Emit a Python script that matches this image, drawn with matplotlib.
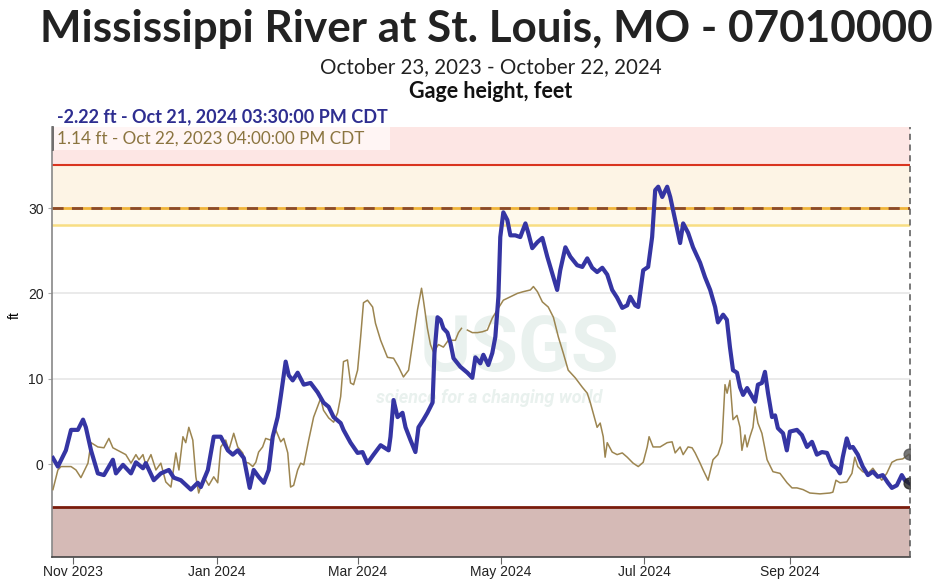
import numpy as np
import pandas as pd
import matplotlib
matplotlib.use('Agg')
import matplotlib.pyplot as plt
import matplotlib.dates as mdates

# 데이터: 시작일 기준 경과일 / 수위(ft)
start = pd.Timestamp('2023-10-23')

cur_days = [0.4, 2.5, 5.9, 8.1, 11.0, 13.2, 14.4, 16.6, 19.5, 22.1, 25.9, 27.2, 30.2, 33.6, 35.7,
            38.7, 39.9, 43.3, 46.3, 49.7, 51.8, 54.8, 59.1, 62.0, 63.3, 66.3, 68.8, 71.8, 74.8,
            76.9, 79.0, 81.6, 84.1, 85.8, 87.9, 90.1, 92.2, 93.9, 96.0, 97.3, 99.4, 100.7, 102.4,
            104.5, 107.1, 110.0, 113.0, 115.5, 117.7, 119.8, 122.8, 124.0, 127.0, 130.0, 132.1,
            134.2, 136.8, 139.8, 143.2, 144.0, 145.3, 147.0, 149.1, 150.4, 152.5, 154.6, 155.9,
            158.0, 159.7, 161.9, 162.7, 164.0, 165.3, 166.5, 168.2, 169.5, 170.8, 173.7, 176.7,
            178.8, 180.1, 182.2, 183.5, 185.6, 187.3, 188.6, 189.9, 190.7, 192.0, 193.7, 195.0,
            197.1, 199.2, 201.4, 202.6, 204.3, 206.5, 208.6, 210.7, 213.3, 214.9, 216.2, 218.4,
            220.5, 223.4, 225.6, 227.7, 229.8, 231.9, 234.1, 236.2, 238.3, 240.4, 242.6, 244.7,
            246.0, 248.1, 249.4, 251.5, 253.6, 255.3, 256.6, 257.9, 259.6, 261.7, 263.0, 265.1,
            267.2, 268.5, 270.6, 272.7, 275.7, 277.8, 280.0, 282.1, 283.3, 285.5, 287.1, 288.4,
            289.7, 291.4, 292.7, 294.0, 295.7, 297.8, 299.1, 300.3, 302.0, 303.3, 304.6, 306.3,
            307.6, 308.8, 311.0, 312.6, 313.9, 316.9, 319.0, 321.2, 323.3, 325.4, 327.5, 329.7,
            331.8, 333.9, 335.2, 336.4, 338.1, 339.4, 340.7, 342.8, 344.9, 347.1, 349.2, 351.3,
            353.4, 355.6, 357.3, 359.4, 361.5, 362.8, 364.6]
cur_ft = [0.7, -0.3, 1.6, 4.0, 4.0, 5.2, 4.3, 1.6, -1.1, -1.3, 0.5, -1.1, -0.1, -1.1, 0.2,
          -0.5, 0.1, -1.9, -1.1, -0.7, -1.6, -1.9, -3.0, -2.2, -2.7, -0.7, 3.2, 3.2, 1.6,
          1.1, 1.6, 0.7, -2.8, -0.7, -1.5, -2.2, -0.7, 3.2, 5.5, 7.9, 12.0, 10.4, 9.8,
          10.7, 9.3, 9.5, 8.4, 7.2, 6.7, 5.5, 4.8, 4.0, 2.5, 1.3, 1.4,
          0.1, 1.1, 2.2, 1.6, 3.2, 7.5, 5.5, 6.0, 4.3, 2.8, 1.4, 4.3,
          5.2, 6.0, 7.2, 13.0, 17.2, 16.9, 15.9, 15.4, 14.2, 12.4, 11.4, 10.7,
          10.1, 12.5, 11.8, 12.8, 11.6, 13.0, 14.9, 19.6, 26.6, 29.5, 28.6, 26.8,
          26.8, 26.6, 28.2, 27.1, 25.3, 26.0, 26.5, 24.3, 21.9, 20.4, 22.7, 25.4,
          24.3, 23.3, 23.1, 24.1, 23.0, 22.5, 23.0, 22.2, 20.4, 19.5, 18.3, 18.6,
          19.6, 18.6, 18.4, 22.7, 23.1, 26.6, 32.1, 32.5, 31.3, 32.5, 31.3, 28.6,
          25.9, 28.2, 27.1, 25.4, 23.6, 21.9, 20.4, 18.4, 16.6, 17.5, 16.9, 13.7,
          11.0, 10.7, 9.0, 8.1, 8.9, 7.9, 7.3, 9.3, 9.5, 10.8, 8.3, 5.5,
          5.7, 4.2, 3.6, 1.6, 3.8, 4.0, 3.4, 2.0, 2.6, 1.1, 1.4, 1.3,
          -0.1, -0.5, -1.1, 0.8, 3.0, 1.9, 2.0, 1.1, -0.3, -1.3, -0.9, -1.5,
          -1.3, -2.2, -2.8, -2.5, -1.3, -1.9, -2.22]

prev_days = [0.4, 2.5, 3.8, 8.1, 10.2, 12.3, 15.3, 16.6, 19.5, 22.1, 24.2, 25.9, 28.0, 31.4,
             33.6, 35.7, 37.0, 38.7, 39.9, 42.1, 44.2, 46.3, 48.4, 50.6, 52.7, 54.0, 55.7,
             56.9, 58.2, 59.9, 61.2, 62.4, 64.6, 66.7, 68.8, 70.5, 71.8, 73.9, 75.2, 77.3,
             79.0, 81.1, 82.4, 83.7, 85.4, 86.7, 87.9, 89.6, 90.9, 93.0, 95.2, 97.3, 98.6,
             100.3, 101.5, 102.8, 104.5, 105.8, 107.1, 109.2, 111.3, 114.3, 115.5, 117.7,
             119.8, 121.5, 122.8, 124.0, 125.7, 127.0, 128.3, 130.0, 131.3, 132.5, 134.2,
             136.4, 137.6, 139.8, 142.7, 145.3, 147.4, 149.5, 151.7, 153.8, 155.5, 157.2,
             158.0, 159.7, 161.0, 162.3, 164.4, 166.5, 168.6, 171.6, 172.9, 174.2, 175.5,
             176.7, 178.8, 181.0, 183.1, 185.2, 187.3, 189.5, 192.0, 195.0, 198.0, 200.5,
             203.5, 204.8, 206.5, 208.6, 211.1, 213.3, 215.4, 217.5, 219.6, 222.6, 225.6,
             227.7, 229.0, 230.2, 231.9, 233.2, 234.5, 235.3, 236.2, 238.3, 240.4, 242.6,
             244.7, 247.2, 249.4, 251.5, 253.2, 254.0, 255.7, 258.7, 261.7, 263.8, 265.1,
             267.2, 268.5, 270.6, 272.3, 273.6, 275.7, 277.0, 279.1, 281.2, 283.3, 285.0,
             286.3, 287.2, 288.4, 289.7, 291.4, 292.7, 293.5, 294.8, 295.7, 296.9, 298.2,
             299.1, 300.3, 302.0, 304.2, 306.7, 309.7, 312.7, 314.8, 316.9, 319.5, 322.4,
             326.7, 330.9, 332.2, 333.5, 335.2, 338.1, 340.3, 341.5, 342.8, 344.9, 347.1,
             349.2, 351.3, 353.0, 355.1, 357.3, 359.4, 361.9, 364.6]
prev_ft = [-3.0, -0.7, -0.3, -0.3, -0.7, -1.6, 0.1, 2.5, 2.0, 1.9, 3.0, 1.9, 1.6, 1.1,
           0.1, 1.1, 0.5, 1.1, -0.1, 1.1, -0.7, 0.1, -2.1, -2.7, 1.3, -0.7, 3.2,
           2.5, 4.3, 2.8, -1.5, -3.4, -1.5, -2.5, -1.5, -2.2, 2.0, 2.8, 1.6, 3.6,
           2.0, 1.3, 0.2, 0.1, -0.3, 0.2, 1.4, 2.0, 3.0, 2.8, 4.0, 2.6, 3.0,
           1.3, -2.7, -2.5, -0.7, 0.1, -0.1, 2.8, 5.5, 7.7, 6.3, 5.4,
           4.9, 6.0, 7.9, 12.0, 12.2, 9.5, 9.3, 11.0, 14.9, 18.9, 19.2,
           18.4, 16.5, 14.5, 12.5, 12.4, 11.4, 10.2, 11.0, 14.9, 18.1, 20.6,
           19.2, 15.9, 14.0, 13.1, 14.0, 13.7, 14.5, 14.5, 15.4, 15.9, np.nan,
           15.7, 15.4, 15.4, 15.5, 15.7, 17.1, 18.1, 19.2, 19.6, 20.0, 20.2,
           20.4, 20.8, 20.2, 19.0, 18.4, 17.2, 14.9, 13.0, 11.0, 10.1, 9.0,
           8.3, 7.2, 6.0, 4.3, 4.8, 3.2, 0.8, 2.5, 1.4, 1.1, 1.3,
           0.8, 0.1, -0.3, 0.2, 2.0, 3.2, 2.0, 2.0, 2.5, 2.6, 1.3,
           2.0, 1.1, 2.0, 1.9, 1.3, 0.1, -0.7, -1.9, 0.5, 1.1, 2.5,
           9.3, 8.3, 9.8, 5.2, 5.7, 4.3, 1.6, 3.4, 2.0, 3.2, 4.3,
           6.7, 4.8, 3.6, 0.5, -0.9, -1.1, -2.2, -2.8, -2.8, -3.0, -3.4,
           -3.5, -3.4, -3.3, -1.9, -2.2, -2.1, -1.1, 0.8, -0.3, -0.9, -1.1,
           -0.5, -1.3, -1.9, -1.1, 0.2, 0.5, 0.6, 1.14]

cur_x = start + pd.to_timedelta(cur_days, unit='D')
prev_x = start + pd.to_timedelta(prev_days, unit='D')
end = start + pd.Timedelta(days=365)

W, H = 936, 584
fig = plt.figure(figsize=(W / 100, H / 100), dpi=100)
ax = fig.add_axes([52 / W, 1 - 557 / H, (910 - 52) / W, (557 - 127) / H])

ymin, ymax = -10.9, 39.5
ax.set_xlim(start, end)
ax.set_ylim(ymin, ymax)

# 홍수 단계 배경
ax.axhspan(35, ymax, color='#fde6e4', zorder=0, lw=0)
ax.axhspan(30, 35, color='#fdf4e5', zorder=0, lw=0)
ax.axhspan(28, 30, color='#fef9ec', zorder=0, lw=0)
ax.axhspan(ymin, -5, color='#d5bab6', zorder=0, lw=0)

for yv in [0, 10, 20]:
    ax.axhline(yv, color='#e6e6e6', lw=1.2, zorder=1)

ax.axhline(35, color='#d9341f', lw=1.5, zorder=2)
ax.axhline(28, color='#f8de83', lw=1.8, zorder=2)
ax.axhline(30, color='#f0b43a', lw=2, zorder=2)
ax.axhline(30, color='#8b4a2b', lw=2, ls=(0, (4, 3)), zorder=2)
ax.axhline(-5, color='#7a1c0c', lw=2, zorder=2)

# USGS 워터마크
ax.text(0.545, 0.395, 'USGS', transform=ax.transAxes, ha='center', va='bottom',
        fontsize=56, fontweight='bold', color='#e9f1ee', family='Roboto', zorder=1)
ax.text(0.51, 0.39, 'science for a changing world', transform=ax.transAxes, ha='center',
        va='top', fontsize=13, fontweight='bold', style='italic', color='#e9f1ee',
        family='Roboto', zorder=1)

ax.plot(prev_x, prev_ft, color='#9c8550', lw=1.1, zorder=3)
ax.plot(cur_x, cur_ft, color='#3535a3', lw=3, zorder=4)

ax.scatter([cur_x[-1]], [cur_ft[-1]], s=60, color='#222222', alpha=0.8, zorder=5)
ax.scatter([prev_x[-1]], [prev_ft[-1]], s=60, color='#555555', alpha=0.8, zorder=5)

ax.axvline(end, color='#555555', lw=1.1, ls=(0, (4, 3)), zorder=5, clip_on=False)

ax.spines['top'].set_visible(False)
ax.spines['right'].set_visible(False)
ax.spines['left'].set_color('#888888')
ax.spines['left'].set_linewidth(1.2)
ax.spines['bottom'].set_color('#444444')
ax.spines['bottom'].set_linewidth(1.2)

ax.set_yticks([0, 10, 20, 30])
ax.tick_params(axis='y', length=3, color='#aaaaaa', labelsize=10, labelcolor='#222222', pad=3)
ax.xaxis.set_major_locator(mdates.MonthLocator(bymonth=[1, 3, 5, 7, 9, 11]))
ax.xaxis.set_major_formatter(mdates.DateFormatter('%b %Y'))
ax.tick_params(axis='x', length=5, color='#666666', labelsize=10, labelcolor='#222222', pad=1)
for lab in ax.get_xticklabels() + ax.get_yticklabels():
    lab.set_family('Liberation Sans')
ax.set_ylabel('ft', fontsize=10, family='Liberation Sans')
ax.yaxis.set_label_coords(-30 / 858, 0.563)

# 제목
fig.text(486 / W, 1 - 29 / H, 'Mississippi River at St. Louis, MO - 07010000', ha='center',
         va='center', fontsize=31.7, fontweight='bold', family='Lato', color='#222222')
cx = 491 / W
fig.text(cx, 1 - 67 / H, 'October 23, 2023 - October 22, 2024', ha='center', va='center',
         fontsize=14.8, family='Lato', color='#222222')
fig.text(cx, 1 - 91 / H, 'Gage height, feet', ha='center', va='center',
         fontsize=15.5, fontweight='bold', family='Lato', color='#111111')

fig.text(57 / W, 1 - 117 / H, '-2.22 ft - Oct 21, 2024 03:30:00 PM CDT', ha='left', va='center',
         fontsize=13, fontweight='bold', family='Lato', color='#2e2e90')
fig.patches.append(plt.Rectangle((52 / W, 1 - 150 / H), (390 - 52) / W, 23 / H,
                                 transform=fig.transFigure, facecolor='#fff5f4',
                                 edgecolor='none', zorder=3))
fig.lines.append(plt.Line2D([53 / W, 53 / W], [1 - 150 / H, 1 - 127 / H],
                            transform=fig.transFigure, color='#555555', lw=1.2, zorder=4))
fig.text(57 / W, 1 - 139 / H, '1.14 ft - Oct 22, 2023 04:00:00 PM CDT', ha='left', va='center',
         fontsize=12.3, family='Lato', color='#8b7540', zorder=4)

fig.savefig('out.png', dpi=100)
